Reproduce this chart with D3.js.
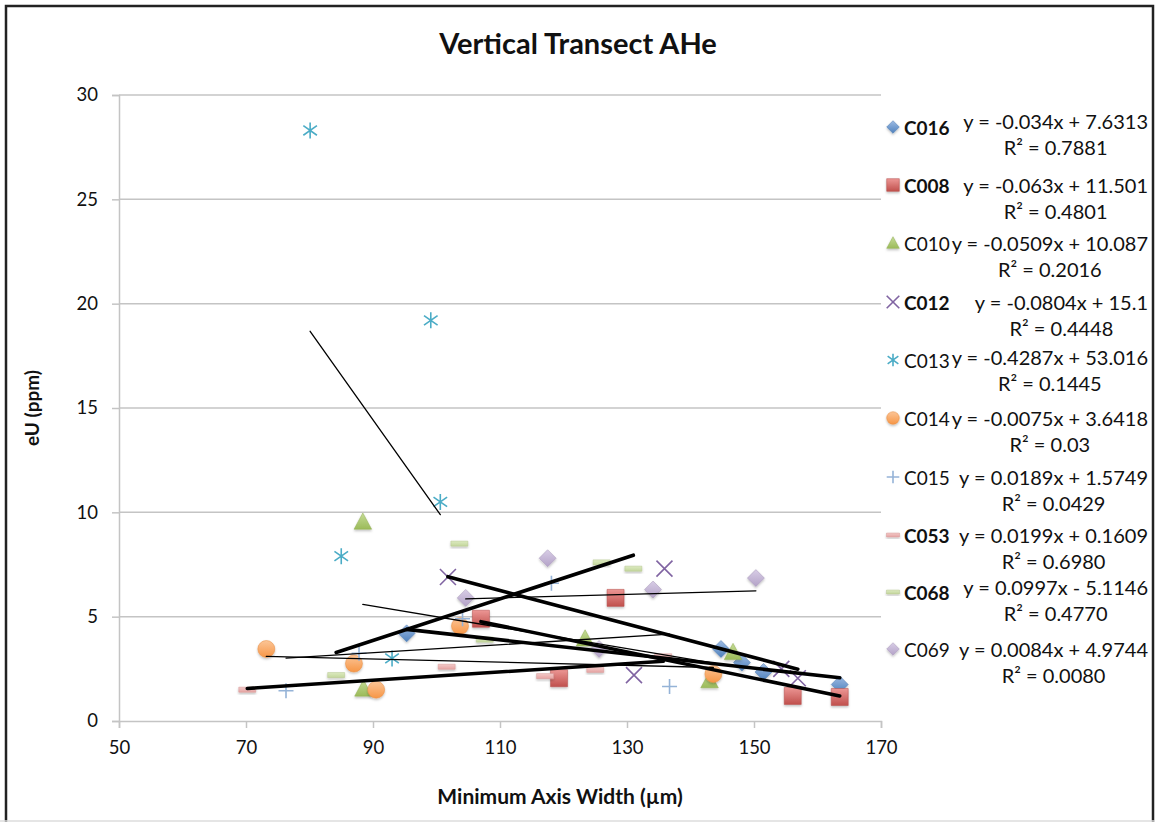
<!DOCTYPE html>
<html>
<head>
<meta charset="utf-8">
<script src="https://cdn.jsdelivr.net/npm/d3@7"></script>
<style>
  body { margin: 0; background: #fff; }
  svg { display: block; font-family: Lato, "Open Sans", sans-serif; }
</style>
</head>
<body>
<svg id="chart" width="1155" height="822"></svg>
<script>
// series, in legend order
const seriesNames = ["C016", "C008", "C010", "C012", "C013", "C014", "C015", "C053", "C068", "C069"];
const boldNames = ["C016", "C008", "C012", "C053", "C068"];

// minimum axis width (µm) and eU (ppm)
const c016X = [95.3, 144.8, 148.1, 151.5, 163.5];
const c016Y = [4.2, 3.45, 2.8, 2.35, 1.75];
const c008X = [107.0, 119.3, 128.2, 156.1, 163.5];
const c008Y = [4.9, 2.05, 5.9, 1.2, 1.15];
const c010X = [88.4, 88.5, 123.4, 143.0, 146.7];
const c010Y = [9.55, 1.55, 3.95, 1.95, 3.3];
const c012X = [101.8, 131.1, 135.9, 154.3, 156.9];
const c012Y = [6.9, 2.2, 7.3, 2.5, 2.05];
const c013X = [80.1, 85.0, 93.0, 99.1, 100.6];
const c013Y = [28.3, 7.9, 3.0, 19.2, 10.5];
const c014X = [73.2, 87.0, 90.5, 103.7, 143.6];
const c014Y = [3.45, 2.75, 1.5, 4.55, 2.25];
const c015X = [76.3, 87.8, 104.1, 118.1, 136.7];
const c015Y = [1.45, 3.25, 4.9, 6.6, 1.65];
const c053X = [70.2, 101.6, 117.1, 125.0, 135.7];
const c053Y = [1.5, 2.6, 2.15, 2.45, 3.1];
const c068X = [84.2, 103.6, 107.6, 126.0, 131.0];
const c068Y = [2.2, 8.5, 3.9, 7.6, 7.3];
const c069X = [104.6, 117.5, 125.6, 134.1, 150.3];
const c069Y = [5.9, 7.8, 3.45, 6.3, 6.85];

// linear trendlines shown in the legend
const slopes = [-0.034, -0.063, -0.0509, -0.0804, -0.4287, -0.0075, 0.0189, 0.0199, 0.0997, 0.0084];
const intercepts = [7.6313, 11.501, 10.087, 15.1, 53.016, 3.6418, 1.5749, 0.1609, -5.1146, 4.9744];
const equations = [
  "y = -0.034x + 7.6313", "y = -0.063x + 11.501", "y = -0.0509x + 10.087",
  "y = -0.0804x + 15.1", "y = -0.4287x + 53.016", "y = -0.0075x + 3.6418",
  "y = 0.0189x + 1.5749", "y = 0.0199x + 0.1609", "y = 0.0997x - 5.1146",
  "y = 0.0084x + 4.9744"
];
const rSquared = ["0.7881", "0.4801", "0.2016", "0.4448", "0.1445", "0.03", "0.0429", "0.6980", "0.4770", "0.0080"];

const xTicks = [50, 70, 90, 110, 130, 150, 170];
const yTicks = [0, 5, 10, 15, 20, 25, 30];

const xsList = [c016X, c008X, c010X, c012X, c013X, c014X, c015X, c053X, c068X, c069X];
const ysList = [c016Y, c008Y, c010Y, c012Y, c013Y, c014Y, c015Y, c053Y, c068Y, c069Y];

const shapes = ["diamond", "square", "triangle", "x", "asterisk", "circle", "cross", "dash", "dash", "diamond"];
const colors = ["#4F81BD", "#C0504D", "#9BBB59", "#8064A2", "#4BACC6", "#F79646", "#95B3D7", "#E6A3A2", "#C3D69B", "#B3A2C7"];
const lightColors = ["#9DBBE3", "#EC9694", "#C5DB96", "#B9A6D3", "#92D6E8", "#FBC597", "#C6D9F1", "#F2C9C8", "#DCEAC0", "#D8CDE6"];

const series = seriesNames.map((name, i) => ({
  name: name,
  bold: boldNames.includes(name),
  shape: shapes[i],
  color: colors[i],
  light: lightColors[i],
  slope: slopes[i],
  intercept: intercepts[i],
  eq: equations[i],
  r2: rSquared[i],
  points: xsList[i].map((x, j) => ({ x: x, y: ysList[i][j] }))
}));

const svg = d3.select("#chart");
const defs = svg.append("defs");

series.forEach((s, i) => {
  const g = defs.append("linearGradient")
    .attr("id", "grad" + i)
    .attr("x1", 0).attr("y1", 0).attr("x2", 0).attr("y2", 1);
  g.append("stop").attr("offset", "0%").attr("stop-color", s.light);
  g.append("stop").attr("offset", "100%").attr("stop-color", s.color);
});

const shadow = defs.append("filter").attr("id", "shadow")
  .attr("x", "-50%").attr("y", "-50%").attr("width", "200%").attr("height", "200%");
shadow.append("feDropShadow")
  .attr("dx", 0).attr("dy", 1.5).attr("stdDeviation", 1.2)
  .attr("flood-color", "#000").attr("flood-opacity", 0.25);

// frame
svg.append("rect")
  .attr("x", 6).attr("y", 6).attr("width", 1147).attr("height", 830)
  .attr("fill", "#fff").attr("stroke", "#222").attr("stroke-width", 2.5);
svg.append("line")
  .attr("x1", 0).attr("x2", 1155).attr("y1", 821).attr("y2", 821)
  .attr("stroke", "#ddd").attr("stroke-width", 1.5);

const margin = { top: 95, right: 274, bottom: 101, left: 119 };
const width = 1155 - margin.left - margin.right,
  height = 822 - margin.top - margin.bottom;

const xScale = d3.scaleLinear().domain([50, 170]).range([margin.left, margin.left + width]);
const yScale = d3.scaleLinear().domain([0, 30]).range([margin.top + height, margin.top]);

const gridColor = "#C4C4C4";

// horizontal gridlines
svg.append("g")
  .selectAll("line")
  .data(yTicks.filter((d) => d > 0))
  .enter()
  .append("line")
  .attr("x1", xScale(50)).attr("x2", xScale(170))
  .attr("y1", (d) => yScale(d)).attr("y2", (d) => yScale(d))
  .attr("stroke", gridColor).attr("stroke-width", 1.5);

// axes
const xAxis = svg.append("g")
  .attr("transform", "translate(0," + yScale(0) + ")")
  .call(d3.axisBottom(xScale).tickValues(xTicks).tickSize(7).tickPadding(13).tickFormat(d3.format("d")));
const yAxis = svg.append("g")
  .attr("transform", "translate(" + xScale(50) + ",0)")
  .call(d3.axisLeft(yScale).tickValues(yTicks).tickSize(7).tickPadding(14).tickFormat(d3.format("d")));

[xAxis, yAxis].forEach((ax) => {
  ax.select(".domain").attr("stroke", gridColor).attr("stroke-width", 1.5);
  ax.selectAll(".tick line").attr("stroke", gridColor).attr("stroke-width", 1.5);
  ax.selectAll(".tick text")
    .attr("fill", "#111")
    .attr("font-size", "18.5px")
    .attr("font-family", "Lato, sans-serif");
});

// marker paths
const markerPath = (shape, r) => {
  switch (shape) {
    case "diamond":
      return `M0,${-r}L${r},0L0,${r}L${-r},0Z`;
    case "square":
      return `M${-r},${-r}H${r}V${r}H${-r}Z`;
    case "triangle":
      return `M0,${-r}L${r},${r * 0.85}L${-r},${r * 0.85}Z`;
    case "circle":
      return `M${-r},0A${r},${r} 0 1,0 ${r},0A${r},${r} 0 1,0 ${-r},0Z`;
    case "x":
      return `M${-r},${-r}L${r},${r}M${r},${-r}L${-r},${r}`;
    case "asterisk":
      return `M0,${-r}V${r}M${-r * 0.85},${-r * 0.6}L${r * 0.85},${r * 0.6}M${r * 0.85},${-r * 0.6}L${-r * 0.85},${r * 0.6}`;
    case "cross":
      return `M0,${-r}V${r}M${-r},0H${r}`;
    case "dash":
      return `M${-r},${-r * 0.3}H${r}V${r * 0.3}H${-r}Z`;
  }
};
const isLine = (shape) => shape === "x" || shape === "asterisk" || shape === "cross";

const drawMarker = (sel, s, i, r) => {
  sel.attr("d", markerPath(s.shape, r));
  if (isLine(s.shape)) {
    sel.attr("fill", "none").attr("stroke", s.color).attr("stroke-width", 1.6);
  } else {
    sel.attr("fill", "url(#grad" + i + ")")
      .attr("stroke", d3.color(s.color).darker(0.2))
      .attr("stroke-width", 0.5)
      .attr("filter", "url(#shadow)");
  }
};

const sizes = { diamond: 8.5, square: 8.5, triangle: 8.8, circle: 8.5, x: 8, asterisk: 8, cross: 7.5, dash: 8.5 };

// points
series.forEach((s, i) => {
  svg.append("g")
    .selectAll("path")
    .data(s.points)
    .enter()
    .append("path")
    .attr("transform", (d) => "translate(" + xScale(d.x) + "," + yScale(d.y) + ")")
    .call(drawMarker, s, i, sizes[s.shape]);
});

// trendlines over each series' x range
series.forEach((s) => {
  const ext = d3.extent(s.points, (d) => d.x);
  svg.append("line")
    .attr("x1", xScale(ext[0])).attr("y1", yScale(s.slope * ext[0] + s.intercept))
    .attr("x2", xScale(ext[1])).attr("y2", yScale(s.slope * ext[1] + s.intercept))
    .attr("stroke", "#000")
    .attr("stroke-width", s.bold ? 3.6 : 1.3)
    .attr("stroke-linecap", "round");
});

// titles
svg.append("text")
  .attr("x", 578).attr("y", 42)
  .attr("text-anchor", "middle").attr("dominant-baseline", "central")
  .attr("font-size", "29px").attr("font-weight", "bold").attr("fill", "#111")
  .text("Vertical Transect AHe");

svg.append("text")
  .attr("x", 560).attr("y", 795)
  .attr("text-anchor", "middle").attr("dominant-baseline", "central")
  .attr("font-size", "21px").attr("font-weight", "bold").attr("fill", "#111")
  .text("Minimum Axis Width (µm)");

svg.append("text")
  .attr("transform", "translate(31,408) rotate(-90)")
  .attr("text-anchor", "middle").attr("dominant-baseline", "central")
  .attr("font-size", "19px").attr("font-weight", "bold").attr("fill", "#111")
  .text("eU (ppm)");

// legend
const legendEqY = [121, 185, 243, 302, 357, 418, 477, 535, 587, 649];
const legendNameDy = [6, 0, 0, 0, 3, 0, 0, 0, 5, 0];
const legendRight = 1148;

const legend = svg.append("g");
series.forEach((s, i) => {
  const y = legendEqY[i];
  const row = legend.append("g");
  row.append("path")
    .attr("transform", "translate(893," + (y + legendNameDy[i]) + ")")
    .call(drawMarker, s, i, s.shape === "dash" ? 6.5 : 6.3);
  row.append("text")
    .attr("x", 904).attr("y", y + legendNameDy[i])
    .attr("dominant-baseline", "central")
    .attr("font-size", "19px")
    .attr("font-weight", s.bold ? "bold" : "normal")
    .attr("fill", "#111")
    .text(s.name);
  const eq = row.append("text")
    .attr("x", legendRight).attr("y", y)
    .attr("text-anchor", "end").attr("dominant-baseline", "central")
    .attr("font-size", "20px").attr("fill", "#111")
    .text(s.eq);
  const w = eq.node().getComputedTextLength();
  row.append("text")
    .attr("x", legendRight - w / 2).attr("y", y + 26)
    .attr("text-anchor", "middle").attr("dominant-baseline", "central")
    .attr("font-size", "20px").attr("fill", "#111")
    .text("R² = " + s.r2);
});
</script>
</body>
</html>
